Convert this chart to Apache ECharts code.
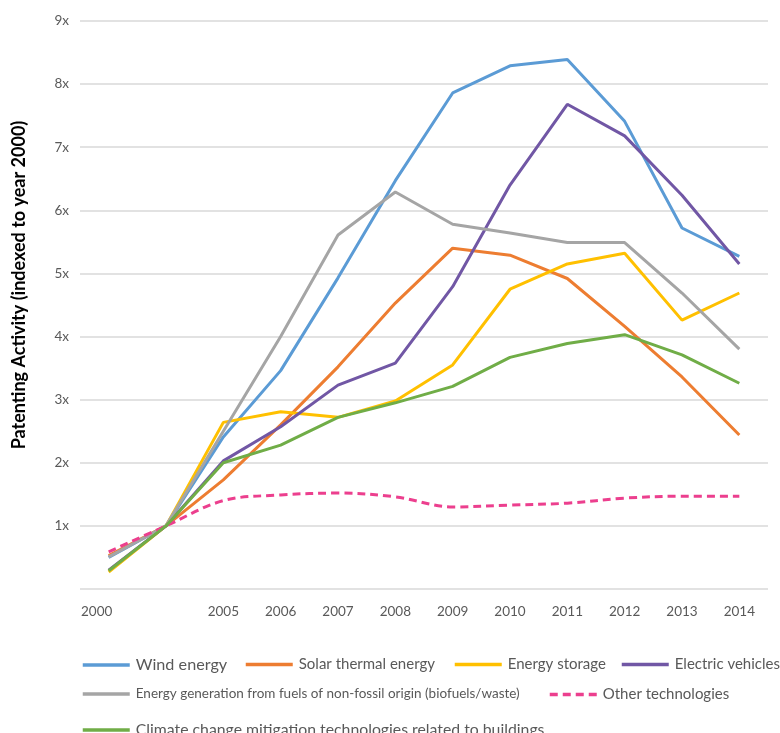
<!DOCTYPE html>
<html>
<head>
<meta charset="utf-8">
<script src="https://cdn.jsdelivr.net/npm/echarts@6/dist/echarts.min.js"></script>
<style>
html,body{margin:0;padding:0;background:#fff;}
#chart{width:780px;height:733px;}
</style>
</head>
<body>
<div id="chart"></div>
<script>
const categories = ['2000', '', '2005', '2006', '2007', '2008', '2009', '2010', '2011', '2012', '2013', '2014'];
const yTickLabels = ['', '1x', '2x', '3x', '4x', '5x', '6x', '7x', '8x', '9x'];

const windEnergy = [0.50, 1, 2.41, 3.46, 4.93, 6.47, 7.86, 8.29, 8.39, 7.41, 5.72, 5.27];
const solarThermal = [0.53, 1, 1.73, 2.60, 3.52, 4.53, 5.40, 5.29, 4.92, 4.16, 3.36, 2.44];
const energyStorage = [0.27, 1, 2.64, 2.81, 2.72, 2.98, 3.55, 4.75, 5.15, 5.32, 4.26, 4.69];
const electricVehicles = [0.30, 1, 2.03, 2.57, 3.23, 3.58, 4.79, 6.40, 7.68, 7.18, 6.24, 5.15];
const nonFossilFuels = [0.51, 1, 2.50, 4.00, 5.61, 6.29, 5.78, 5.64, 5.49, 5.49, 4.69, 3.80];
const otherTech = [0.59, 1, 1.40, 1.49, 1.52, 1.46, 1.30, 1.33, 1.36, 1.44, 1.47, 1.47];
const buildings = [0.29, 1, 2.00, 2.28, 2.72, 2.95, 3.21, 3.67, 3.89, 4.03, 3.71, 3.26];

const names = [
  'Wind energy',
  'Solar thermal energy',
  'Energy storage',
  'Electric vehicles',
  'Energy generation from fuels of non-fossil origin (biofuels/waste)',
  'Other technologies',
  'Climate change mitigation technologies related to buildings'
];
const values = [windEnergy, solarThermal, energyStorage, electricVehicles, nonFossilFuels, otherTech, buildings];
const colors = ['#5B9BD5', '#ED7D31', '#FFC000', '#7157A5', '#A5A5A5', '#EC3F8E', '#70AD47'];

const FONT = 'Lato, "Open Sans", sans-serif';

const series = names.map((n, i) => ({
  name: n,
  type: 'line',
  data: values[i],
  symbol: 'none',
  smooth: i === 5 ? 0.35 : false,
  lineStyle: { width: 3, color: colors[i], type: i === 5 ? [8, 5] : 'solid', cap: 'butt' },
  itemStyle: { color: colors[i] },
  z: 2 + i
}));

// legend layout: [left, top, fontSize]
const legendPos = [
  [81, 657, 16.2],
  [244, 657, 15],
  [453, 657, 15],
  [620, 657, 15],
  [81, 687, 13.5],
  [548, 687, 15],
  [81, 722, 15.8]
];
const legends = names.map((n, i) => ({
  data: [n],
  left: legendPos[i][0],
  top: legendPos[i][1],
  padding: 0,
  itemWidth: 47,
  itemHeight: 12,
  itemGap: 0,
  selectedMode: false,
  itemStyle: { color: 'rgba(0,0,0,0)', borderColor: 'rgba(0,0,0,0)', borderWidth: 0 },
  lineStyle: { width: 3.5 },
  textStyle: { fontFamily: FONT, fontSize: legendPos[i][2], color: '#595959', padding: [0, 0, 0, 1] }
}));

const chart = echarts.init(document.getElementById('chart'), null, { renderer: 'canvas' });
chart.setOption({
  animation: false,
  backgroundColor: '#ffffff',
  grid: { left: 80, right: 12, top: 21, bottom: 144, containLabel: false, outerBoundsMode: 'none' },
  legend: legends,
  xAxis: {
    type: 'category',
    data: categories,
    boundaryGap: true,
    axisLine: { show: false },
    axisTick: { show: false },
    splitLine: { show: false },
    axisLabel: {
      interval: 0,
      margin: 16,
      fontFamily: FONT,
      fontSize: 13.5,
      color: '#595959',
      formatter: function (v, idx) { return idx === 0 ? '{a|' + v + '}' : v; },
      rich: { a: { fontFamily: FONT, fontSize: 13.5, color: '#595959', padding: [0, 24, 0, 0] } }
    }
  },
  yAxis: {
    type: 'value',
    min: 0,
    max: 9,
    interval: 1,
    name: 'Patenting Activity (indexed to year 2000)',
    nameLocation: 'middle',
    nameGap: 52,
    nameTextStyle: { fontFamily: FONT, fontSize: 18, fontWeight: 'bold', color: '#000000', padding: [0, 0, 0, 40] },
    axisLine: { show: false },
    axisTick: { show: false },
    axisLabel: {
      margin: 11,
      fontFamily: FONT,
      fontSize: 13.5,
      color: '#595959',
      formatter: function (v) { return yTickLabels[Math.round(v)] || ''; }
    },
    splitLine: { show: true, lineStyle: { color: '#D9D9D9', width: 1.5 } }
  },
  series: series
});
</script>
</body>
</html>
